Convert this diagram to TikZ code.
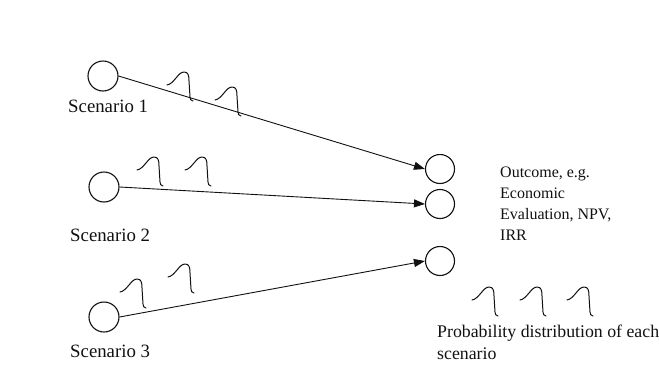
\documentclass[tikz,border=0pt]{standalone}
\usepackage{fontspec}
\setmainfont{Liberation Serif}
\usetikzlibrary{arrows.meta,positioning}
\definecolor{ink}{HTML}{111111}
\newcommand{\lbl}{\fontsize{18.8}{22}\selectfont}
\newcommand{\prob}{\fontsize{17.8}{22}\selectfont}
\newcommand{\klein}{\fontsize{16}{21}\selectfont}
\tikzset{kreis/.style={circle,draw=ink,line width=1.1pt,minimum size=30pt,inner sep=0},
  pfeil/.style={ink,line width=0.9pt,-{Triangle[length=11pt,width=8pt]}},
  verteilung/.style={ink,line width=1pt,line cap=round,line join=round}}
% schiefe Glocke, (#1,#2) = linkes Ende
\newcommand{\glocke}[2]{\draw[verteilung,shift={(#1,#2)}] (0,0)
  .. controls (7,-1) and (11,-13) .. (17,-13) .. controls (21,-13) and (22,-10) .. (22,-4)
  -- (23,12) .. controls (23.5,15) .. (26,16);}

\begin{document}
\begin{tikzpicture}[x=1pt,y=-1pt]
\useasboundingbox (0,0) rectangle (659,370);
\node[kreis] (s1) at (103,76) {};
\node[kreis] (s2) at (104,187) {};
\node[kreis] (s3) at (104,317) {};
\node[kreis,minimum size=29pt] (o1) at (440,169) {};
\node[kreis,minimum size=29pt] (o2) at (440,204) {};
\node[kreis,minimum size=29pt] (o3) at (440,261) {};
\draw[pfeil] (s1.east) -- (o1.west);
\draw[pfeil] (s2.east) -- (o2.west);
\draw[pfeil] (s3.east) -- (o3.west);
\node[anchor=base west,inner sep=0,text=ink,font=\lbl] (l1) at (68,112) {Scenario 1};
\node[anchor=base west,inner sep=0,text=ink,font=\lbl] (l2) at (70,241) {Scenario 2};
\node[anchor=base west,inner sep=0,text=ink,font=\lbl] (l3) at (70,357) {Scenario 3};
\node[anchor=north west,inner sep=0,text=ink,font=\klein,align=left] (ergebnis) at (500,167)
  {Outcome, e.g.\\Economic\\Evaluation, NPV,\\IRR};
\node[anchor=north west,inner sep=0,text=ink,font=\prob,align=left] (wahrsch) at (437,325)
  {Probability distribution of each\\scenario};
% Verteilungen
\glocke{167}{85}\glocke{215}{100}
\glocke{137}{170}\glocke{185}{170}
\glocke{120}{292}\glocke{168}{277}
\glocke{472}{300}\glocke{520}{300}\glocke{567}{300}
\end{tikzpicture}
\end{document}
